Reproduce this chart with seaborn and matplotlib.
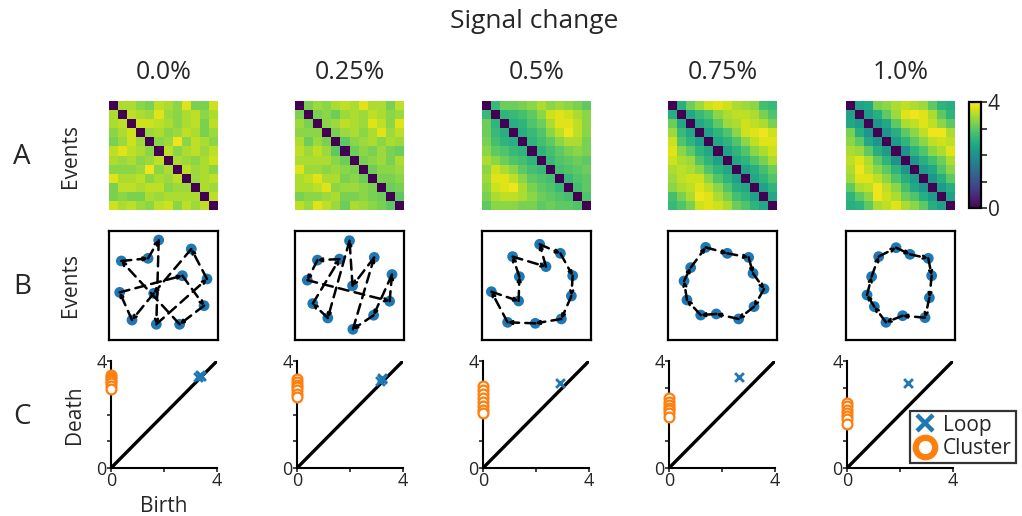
import numpy as np
import matplotlib
matplotlib.use("Agg")
import matplotlib.pyplot as plt
from matplotlib.lines import Line2D
import seaborn as sns

sns.set_style("white")
plt.rcParams['font.family'] = ['Open Sans', 'DejaVu Sans']

# ---------------- data ----------------
titles = ["0.0%", "0.25%", "0.5%", "0.75%", "1.0%"]

# upper triangles (row i, columns i+1..11) of the 12x12 event distance matrices
upper_00 = [
    [3.5, 3.5, 3.3, 3.2, 3.6, 3.5, 3.3, 3.8, 3.2, 3.2, 3.7],
    [3.6, 3.5, 3.4, 3.8, 3.4, 3.3, 3.5, 3.6, 3.3, 3.5],
    [3.7, 3.7, 3.6, 3.5, 3.3, 3.5, 3.6, 3.2, 3.6],
    [3.4, 3.5, 3.3, 3.4, 3.6, 3.5, 3.2, 3.4],
    [3.3, 3.4, 3.9, 3.3, 3.6, 3.5, 3.3],
    [3.6, 3.3, 3.5, 3.6, 3.4, 3.6],
    [3.5, 3.4, 3.3, 3.5, 3.7],
    [3.6, 3.4, 3.5, 3.3],
    [3.4, 3.5, 3.6],
    [3.5, 3.4],
    [3.6],
]
upper_025 = [
    [3.2, 3.4, 3.3, 3.5, 3.6, 3.5, 3.8, 3.5, 3.5, 3.2, 3.6],
    [3.2, 3.3, 3.1, 3.4, 3.5, 3.4, 3.6, 3.5, 3.3, 3.4],
    [3.3, 3.4, 3.6, 3.5, 3.4, 3.8, 3.6, 3.3, 3.8],
    [3.2, 3.4, 3.5, 3.3, 3.5, 3.8, 3.4, 3.6],
    [3.0, 3.3, 3.4, 3.5, 3.3, 3.5, 3.4],
    [3.1, 3.3, 3.2, 3.4, 3.2, 3.1],
    [3.2, 3.3, 3.4, 3.2, 3.5],
    [3.1, 3.3, 3.3, 3.4],
    [3.2, 3.2, 3.3],
    [3.1, 3.2],
    [3.0],
]
upper_05 = [
    [2.7, 3.1, 3.1, 3.2, 3.3, 3.5, 3.3, 3.4, 3.3, 3.2, 3.0],
    [2.6, 2.7, 2.8, 3.0, 3.3, 3.7, 3.8, 3.7, 3.5, 3.3],
    [2.5, 2.6, 2.9, 3.1, 3.5, 3.8, 3.8, 3.6, 3.3],
    [2.5, 2.7, 2.9, 3.3, 3.6, 3.9, 3.6, 3.3],
    [2.6, 2.8, 3.0, 3.3, 3.5, 3.5, 3.2],
    [2.6, 2.8, 3.0, 3.2, 3.3, 3.2],
    [2.7, 2.9, 3.0, 3.1, 3.0],
    [2.8, 2.9, 3.0, 3.1],
    [2.7, 2.9, 3.0],
    [2.8, 3.0],
    [2.9],
]
upper_075 = [
    [2.5, 3.1, 3.4, 3.7, 3.8, 3.7, 3.5, 3.4, 3.3, 2.8, 2.7],
    [2.4, 2.7, 2.9, 3.3, 3.5, 3.6, 3.6, 3.5, 3.2, 2.9],
    [2.4, 2.6, 3.0, 3.4, 3.5, 3.7, 3.6, 3.5, 3.2],
    [2.3, 2.6, 2.9, 3.3, 3.7, 3.8, 3.9, 3.7],
    [2.4, 2.6, 2.9, 3.3, 3.6, 3.8, 3.8],
    [2.3, 2.6, 2.9, 3.3, 3.5, 3.7],
    [2.4, 2.6, 2.9, 3.2, 3.5],
    [2.3, 2.5, 2.8, 3.1],
    [2.4, 2.6, 2.9],
    [2.3, 2.6],
    [2.4],
]
upper_10 = [
    [2.3, 2.4, 3.2, 3.3, 3.5, 3.6, 3.5, 3.4, 3.0, 2.6, 2.5],
    [2.2, 2.5, 3.0, 3.4, 3.8, 3.9, 3.8, 3.5, 3.0, 2.6],
    [2.1, 2.4, 3.0, 3.5, 3.6, 3.8, 3.6, 3.3, 3.0],
    [2.1, 2.5, 3.0, 3.3, 3.6, 3.9, 3.9, 3.5],
    [2.2, 2.6, 3.0, 3.3, 3.6, 3.7, 3.6],
    [2.0, 2.6, 2.9, 3.3, 3.5, 3.8],
    [2.1, 2.5, 2.8, 3.1, 3.5],
    [2.2, 2.4, 2.9, 3.3],
    [2.1, 2.5, 3.0],
    [2.2, 2.5],
    [2.3],
]
uppers = [upper_00, upper_025, upper_05, upper_075, upper_10]

# event embeddings (row B), in visiting order; the path is closed
ev_x_00 = [0.899, 0.755, 0.410, 0.211, 0.098, 0.673, 0.872, 0.648, 0.113, 0.358, 0.456, 0.434]
ev_y_00 = [0.560, 0.835, 0.428, 0.183, 0.437, 0.590, 0.315, 0.144, 0.725, 0.749, 0.917, 0.144]
ev_x_025 = [0.408, 0.206, 0.113, 0.868, 0.890, 0.721, 0.531, 0.727, 0.528, 0.500, 0.301, 0.163]
ev_y_025 = [0.742, 0.733, 0.549, 0.356, 0.601, 0.227, 0.098, 0.758, 0.497, 0.911, 0.202, 0.334]
ev_x_05 = [0.281, 0.587, 0.529, 0.719, 0.832, 0.820, 0.728, 0.489, 0.235, 0.086, 0.336, 0.343]
ev_y_05 = [0.765, 0.673, 0.878, 0.795, 0.590, 0.404, 0.193, 0.153, 0.162, 0.443, 0.358, 0.581]
ev_x_075 = [0.346, 0.544, 0.740, 0.780, 0.881, 0.789, 0.648, 0.443, 0.300, 0.174, 0.147, 0.208]
ev_y_075 = [0.850, 0.795, 0.758, 0.612, 0.468, 0.306, 0.193, 0.239, 0.229, 0.367, 0.541, 0.664]
ev_x_10 = [0.459, 0.587, 0.755, 0.786, 0.765, 0.725, 0.520, 0.367, 0.260, 0.193, 0.235, 0.300]
ev_y_10 = [0.847, 0.786, 0.749, 0.590, 0.388, 0.205, 0.223, 0.162, 0.306, 0.413, 0.581, 0.765]
ev_xs = [ev_x_00, ev_x_025, ev_x_05, ev_x_075, ev_x_10]
ev_ys = [ev_y_00, ev_y_025, ev_y_05, ev_y_075, ev_y_10]

# persistence diagrams (row C)
cluster_death_00 = [3.47, 3.40, 3.33, 3.25, 3.17, 3.08, 2.96]
cluster_death_025 = [3.33, 3.22, 3.12, 3.02, 2.90, 2.78, 2.64]
cluster_death_05 = [3.08, 2.92, 2.78, 2.62, 2.48, 2.32, 2.18, 2.07]
cluster_death_075 = [2.60, 2.48, 2.36, 2.26, 2.16, 2.04, 1.90]
cluster_death_10 = [2.42, 2.30, 2.18, 2.06, 1.95, 1.82, 1.64]
cluster_deaths = [cluster_death_00, cluster_death_025, cluster_death_05, cluster_death_075, cluster_death_10]

loop_birth = [[3.28, 3.34, 3.38], [3.14, 3.19, 3.22], [2.92], [2.63], [2.30]]
loop_death = [[3.40, 3.46, 3.43], [3.26, 3.32, 3.36], [3.19], [3.40], [3.18]]

# ---------------- layout ----------------
W, H = 1022, 516
fig = plt.figure(figsize=(W / 100, H / 100), dpi=100)


def px(l, t, w, h):
    return [l / W, 1 - (t + h) / H, w / W, h / H]


lefts = [109, 295, 482, 668, 846]
c_lefts = [111, 297, 483, 669, 847]
blue = "#1f77b4"
orange = "#ff7f0e"

for k in range(5):
    # ---- row A: heatmap
    up = uppers[k]
    n = 12
    M = np.zeros((n, n))
    for i in range(n - 1):
        for jj, v in enumerate(up[i]):
            j = i + 1 + jj
            M[i, j] = v
            M[j, i] = v
    axA = fig.add_axes(px(lefts[k], 101, 109, 109))
    sns.heatmap(M, ax=axA, cmap="viridis", vmin=0, vmax=4, cbar=False,
                xticklabels=False, yticklabels=False)
    axA.set_title(titles[k], fontsize=18, pad=16)
    if k == 4:
        cax = fig.add_axes(px(969, 102, 12, 106))
        cb = fig.colorbar(axA.collections[0], cax=cax)
        cb.set_ticks([0, 1, 2, 3, 4])
        cb.set_ticklabels(["0", "", "", "", "4"])
        cb.outline.set_linewidth(1.6)
        cb.outline.set_edgecolor("k")
        cax.tick_params(labelsize=15, length=4, width=1.2, pad=1)

    # ---- row B: event embedding
    axB = fig.add_axes(px(lefts[k], 231, 109, 109))
    xs, ys = ev_xs[k], ev_ys[k]
    sns.scatterplot(x=xs, y=ys, ax=axB, color=blue, s=60, edgecolor="none", zorder=2)
    m = len(xs)
    for i in range(m):
        a = (xs[i], ys[i])
        b = (xs[(i + 1) % m], ys[(i + 1) % m])
        axB.annotate("", xy=b, xytext=a,
                     arrowprops=dict(arrowstyle="->", linestyle=(0, (4, 2.5)), lw=1.8,
                                     color="k", shrinkA=0, shrinkB=0,
                                     mutation_scale=5),
                     zorder=3)
    axB.set_xlim(0, 1)
    axB.set_ylim(0, 1)
    axB.set_xticks([])
    axB.set_yticks([])
    for s in axB.spines.values():
        s.set_visible(True)
        s.set_linewidth(1.6)
        s.set_edgecolor("k")

    # ---- row C: persistence diagram
    axC = fig.add_axes(px(c_lefts[k], 361, 106, 107))
    sns.lineplot(x=[0, 4], y=[0, 4], ax=axC, color="k", lw=2.4)
    axC.scatter([0] * len(cluster_deaths[k]), cluster_deaths[k], s=50,
                facecolors="white", edgecolors=orange, linewidths=1.6,
                clip_on=False, zorder=4)
    sns.scatterplot(x=loop_birth[k], y=loop_death[k], ax=axC, marker="x",
                    color=blue, s=40, linewidth=2, zorder=5)
    axC.set_xlim(0, 4)
    axC.set_ylim(0, 4)
    axC.set_xticks([0, 2, 4])
    axC.set_xticklabels(["0", "", "4"])
    axC.set_yticks([0, 1, 2, 3, 4])
    axC.set_yticklabels(["0", "", "", "", "4"])
    axC.tick_params(labelsize=13, length=3, width=1.2, pad=0, direction="out",
                    bottom=True, left=True)
    for side in ["top", "right"]:
        axC.spines[side].set_visible(False)
    for side in ["left", "bottom"]:
        axC.spines[side].set_linewidth(1.5)
        axC.spines[side].set_edgecolor("k")

    if k == 0:
        axA.text(-0.35, 0.5, "Events", rotation=90, fontsize=15,
                 transform=axA.transAxes, ha="center", va="center")
        axB.text(-0.35, 0.5, "Events", rotation=90, fontsize=15,
                 transform=axB.transAxes, ha="center", va="center")
        axC.set_ylabel("Death", fontsize=15, labelpad=8)
        axC.set_xlabel("Birth", fontsize=15, labelpad=4)

# row labels and super title
fig.text(22 / W, 1 - 157 / H, "A", fontsize=20, ha="center", va="center")
fig.text(22 / W, 1 - 287 / H, "B", fontsize=20, ha="center", va="center")
fig.text(22 / W, 1 - 417 / H, "C", fontsize=20, ha="center", va="center")
fig.text(534 / W, 1 - 22 / H, "Signal change", fontsize=19, ha="center", va="center")

handles = [
    Line2D([], [], marker="x", color=blue, linestyle="none", markersize=11, markeredgewidth=3.2),
    Line2D([], [], marker="o", color=orange, markerfacecolor="white", linestyle="none",
           markersize=14, markeredgewidth=4.5),
]
leg = fig.legend(handles, ["Loop", "Cluster"], loc="lower right",
                 bbox_to_anchor=(1016 / W, 1 - 463 / H), fontsize=15,
                 frameon=True, fancybox=False, handletextpad=0.3,
                 borderpad=0.2, labelspacing=0.1, handlelength=1.1,
                 borderaxespad=0)
leg.get_frame().set_edgecolor("k")
leg.get_frame().set_linewidth(1.6)

fig.savefig("out.png", dpi=100)
